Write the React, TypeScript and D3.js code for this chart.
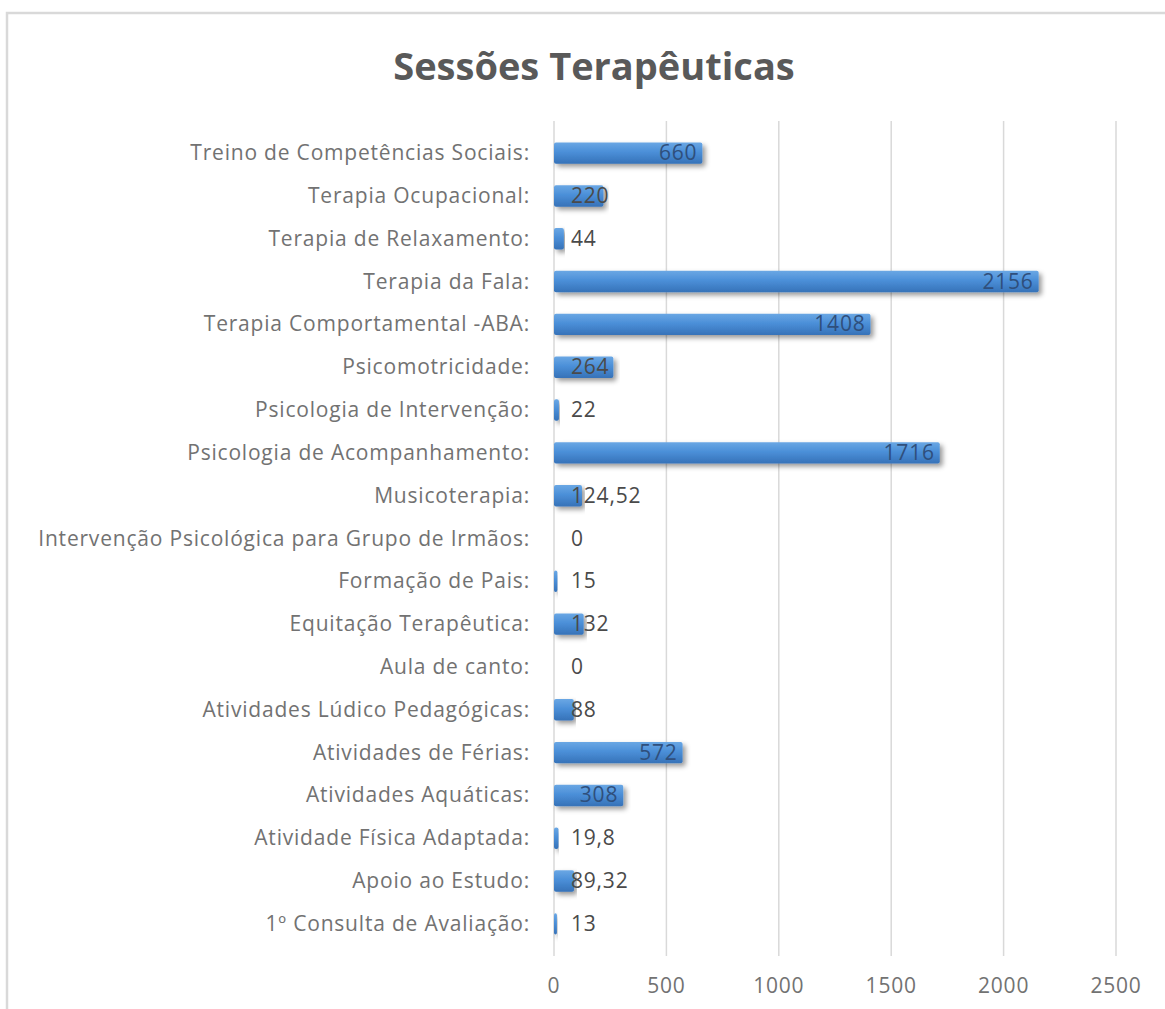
import {useMemo} from 'react';
import * as d3 from 'd3';

const [W, H] = [1165, 1009];

const categories = [
    'Treino de Competências Sociais:',
    'Terapia Ocupacional:',
    'Terapia de Relaxamento:',
    'Terapia da Fala:',
    'Terapia Comportamental -ABA:',
    'Psicomotricidade:',
    'Psicologia de Intervenção:',
    'Psicologia de Acompanhamento:',
    'Musicoterapia:',
    'Intervenção Psicológica para Grupo de Irmãos:',
    'Formação de Pais:',
    'Equitação Terapêutica:',
    'Aula de canto:',
    'Atividades Lúdico Pedagógicas:',
    'Atividades de Férias:',
    'Atividades Aquáticas:',
    'Atividade Física Adaptada:',
    'Apoio ao Estudo:',
    '1º Consulta de Avaliação:',
];
const sessions = [660, 220, 44, 2156, 1408, 264, 22, 1716, 124.52, 0, 15, 132, 0, 88, 572, 308, 19.8, 89.32, 13];
const ticks = [0, 500, 1000, 1500, 2000, 2500];

const FONT = '"Open Sans", sans-serif';
const LABEL_SIZE = 21;
const SPACING = 0.8;
const GREY = '#727272';

const fmt = v => String(v).replace('.', ',');

let ctx = null;
const textWidth = (t, size) => {
    if (!ctx) ctx = document.createElement('canvas').getContext('2d');
    ctx.font = `${size}px "Open Sans"`;
    return ctx.measureText(t).width + t.length * SPACING;
};

export default function App() {
    const x = useMemo(() => d3.scaleLinear().domain([0, 2500]).range([554, 1116]), []);
    const y = useMemo(() => d3.scaleBand().domain(categories).range([121, 956]).padding(0.5), []);

    const txt = {fontFamily: FONT, fontSize: LABEL_SIZE, letterSpacing: SPACING};

    return (
        <svg width={W} height={H} style={{position: 'absolute', left: 0, top: 0, background: '#fff'}}>
            <defs>
                <linearGradient id="bar" x1="0" y1="0" x2="0" y2="1">
                    <stop offset="0%" stopColor="#6aa7e4" />
                    <stop offset="45%" stopColor="#4b8fd8" />
                    <stop offset="100%" stopColor="#3672b8" />
                </linearGradient>
                <filter id="shadow" x="-10%" y="-50%" width="120%" height="200%">
                    <feDropShadow dx="3" dy="3" stdDeviation="2.5" floodColor="#000" floodOpacity="0.4" />
                </filter>
            </defs>

            <rect x={7} y={13} width={1170} height={1010} fill="#fff" stroke="#d9d9d9" strokeWidth={2.5} />

            <text x={594} y={80} textAnchor="middle" fontFamily={FONT} fontWeight="bold"
                  fontSize={38} fill="#595959">Sessões Terapêuticas</text>

            {ticks.map(t => (
                <g key={t}>
                    {t > 0 && <line x1={x(t)} x2={x(t)} y1={121} y2={956} stroke="#d9d9d9" strokeWidth={1.5} />}
                    <text x={x(t)} y={993} textAnchor="middle" {...txt} fill={GREY}>{t}</text>
                </g>
            ))}
            <line x1={x(0)} x2={x(0)} y1={121} y2={956} stroke="#d9d9d9" strokeWidth={1.5} />

            {categories.map((c, i) => {
                const v = sessions[i];
                const yc = y(c) + y.bandwidth() / 2;
                const label = fmt(v);
                const w = textWidth(label, LABEL_SIZE);
                const inside = x(v) - 5 >= x(0) + 17 + w;
                const end = Math.max(x(v) - 5, x(0) + 17 + w);
                return (
                    <g key={c}>
                        <text x={530} y={yc + 7} textAnchor="end" {...txt} fill={GREY}>{c}</text>
                        {v > 0 && <rect x={x(0)} y={y(c)} width={Math.max(x(v) - x(0), 2)} height={y.bandwidth()}
                                        fill="url(#bar)" filter="url(#shadow)" rx={2} />}
                        <text x={end} y={yc + 7} textAnchor="end" {...txt}
                              fill={inside ? '#2f4f7c' : '#4a4a4a'}>{label}</text>
                    </g>
                );
            })}
        </svg>
    );
}
